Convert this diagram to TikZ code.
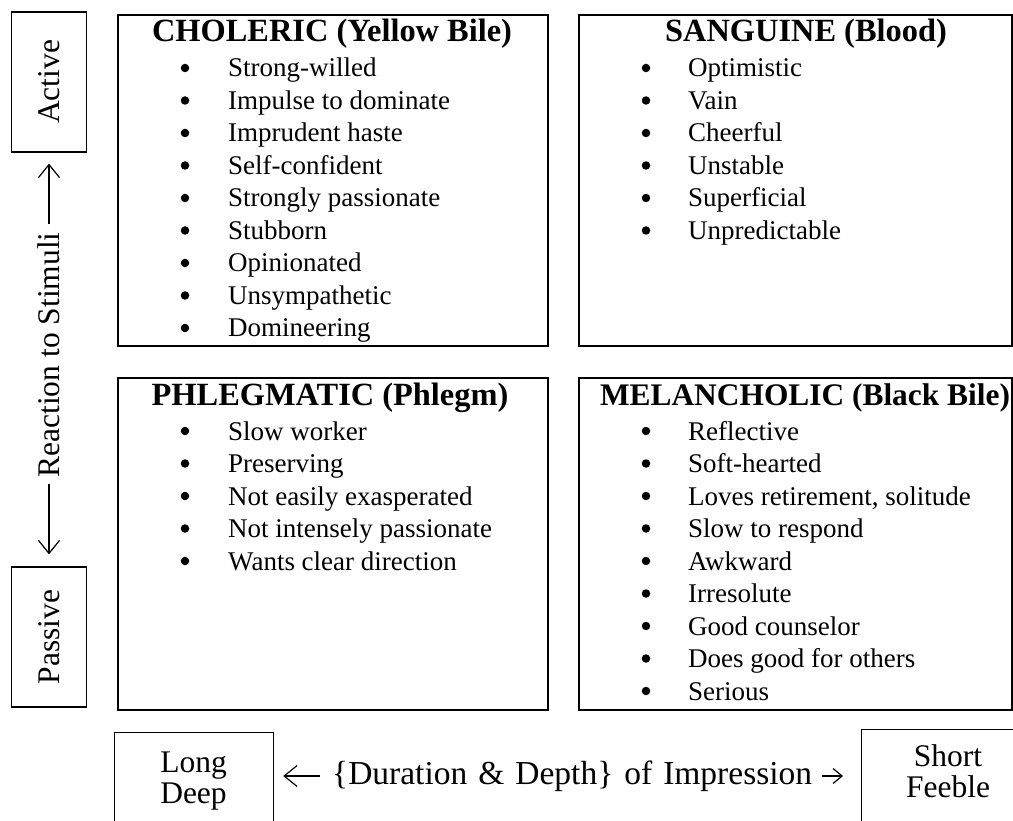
\documentclass[tikz,border=0pt]{standalone}
\usepackage{fontspec}
\setmainfont{Liberation Serif}
\usetikzlibrary{arrows.meta}
\begin{document}
\begin{tikzpicture}[x=1pt,y=-1pt,
  panel/.style={draw, line width=2pt, inner sep=0pt, anchor=north west},
  lbox/.style={draw, line width=1.2pt, inner sep=0pt, align=center,
    font=\fontsize{31.5}{31}\selectfont},
  frame/.style={draw, line width=1.2pt, inner sep=0pt, anchor=north west},
  ttl/.style={font=\fontsize{32.4}{36}\selectfont\bfseries, anchor=base, inner sep=0pt},
  itm/.style={font=\fontsize{27}{32}\selectfont, anchor=base west, inner sep=0pt},
  bul/.style={circle, fill=black, inner sep=0pt, minimum size=8.5pt},
  lbl/.style={font=\fontsize{31.5}{31}\selectfont, inner sep=0pt, align=center},
  arr/.style={line width=1.2pt, -{Straight Barb[length=13pt,width=21pt,line width=1.2pt]}},
  arrs/.style={line width=1.2pt, -{Straight Barb[length=9pt,width=15pt,line width=1.2pt]}}]

\useasboundingbox (0,0) rectangle (1013,821);
\clip (0,0) rectangle (1013,821);

% panels
\node[panel, minimum width=430pt, minimum height=331pt] (chol) at (117,14) {};
\node[panel, minimum width=433pt, minimum height=331pt] (sang) at (578,14) {};
\node[panel, minimum width=430pt, minimum height=332pt] (phle) at (117,377) {};
\node[panel, minimum width=433pt, minimum height=332pt] (mela) at (578,377) {};

% titles
\node[ttl] (tchol) at (332,42) {CHOLERIC (Yellow Bile)};
\node[ttl] (tsang) at (806,42) {SANGUINE (Blood)};
\node[ttl] (tphle) at (330,405) {PHLEGMATIC (Phlegm)};
\node[ttl, font=\fontsize{31.4}{36}\selectfont\bfseries] (tmela) at (805,405) {MELANCHOLIC (Black Bile)};

% items
\foreach \t [count=\i from 0] in {Strong-willed, Impulse to dominate, Imprudent haste,
  Self-confident, Strongly passionate, Stubborn, Opinionated, Unsympathetic, Domineering}{
  \node[bul] (cb\i) at (185,68+32.5*\i) {};
  \node[itm] (ci\i) at (228,77+32.5*\i) {\t};
}
\foreach \t [count=\i from 0] in {Optimistic, Vain, Cheerful, Unstable, Superficial, Unpredictable}{
  \node[bul] (sb\i) at (646,68+32.5*\i) {};
  \node[itm] (si\i) at (688,77+32.5*\i) {\t};
}
\foreach \t [count=\i from 0] in {Slow worker, Preserving, Not easily exasperated,
  Not intensely passionate, Wants clear direction}{
  \node[bul] (pb\i) at (185,431+32.5*\i) {};
  \node[itm] (pi\i) at (228,440+32.5*\i) {\t};
}
\foreach \t [count=\i from 0] in {Reflective, Soft-hearted, {Loves retirement, solitude},
  Slow to respond, Awkward, Irresolute, Good counselor, Does good for others, Serious}{
  \node[bul] (mb\i) at (646,431+32.5*\i) {};
  \node[itm] (mi\i) at (688,440+32.5*\i) {\t};
}

% left axis
\node[lbox, rotate=90, minimum width=140pt, minimum height=75pt] (act) at (49,82) {Active};
\node[lbox, rotate=90, minimum width=140pt, minimum height=75pt] (pas) at (49,637) {Passive};
\node[lbl, rotate=90] (react) at (49,355) {Reaction to Stimuli};
\draw[arr, shorten <=8pt, shorten >=11pt] (react.east) -- (act.west);
\draw[arr, shorten <=6pt, shorten >=12pt] (react.west) -- (pas.east);

% bottom axis
\node[frame, minimum width=159pt, minimum height=98pt] (long) at (114,732) {};
\node[lbl] (longt) at (193.5,781) {Long\\Deep};
\node[frame, minimum width=174pt, minimum height=98pt] (sf) at (861,729) {};
\node[lbl] (sft) at (948,771) {Short\\Feeble};
\node[lbl, anchor=west, font=\fontsize{33.5}{31}\selectfont]
  (dur) at (332,776) {\spaceskip=11pt\relax\{Duration \& Depth\} of Impression};
\draw[arr, shorten <=12pt, shorten >=9pt] (dur.west) -- (dur.west -| long.east);
\draw[arrs, shorten <=10pt, shorten >=18pt] (dur.east) -- (dur.east -| sf.west);
\end{tikzpicture}
\end{document}
